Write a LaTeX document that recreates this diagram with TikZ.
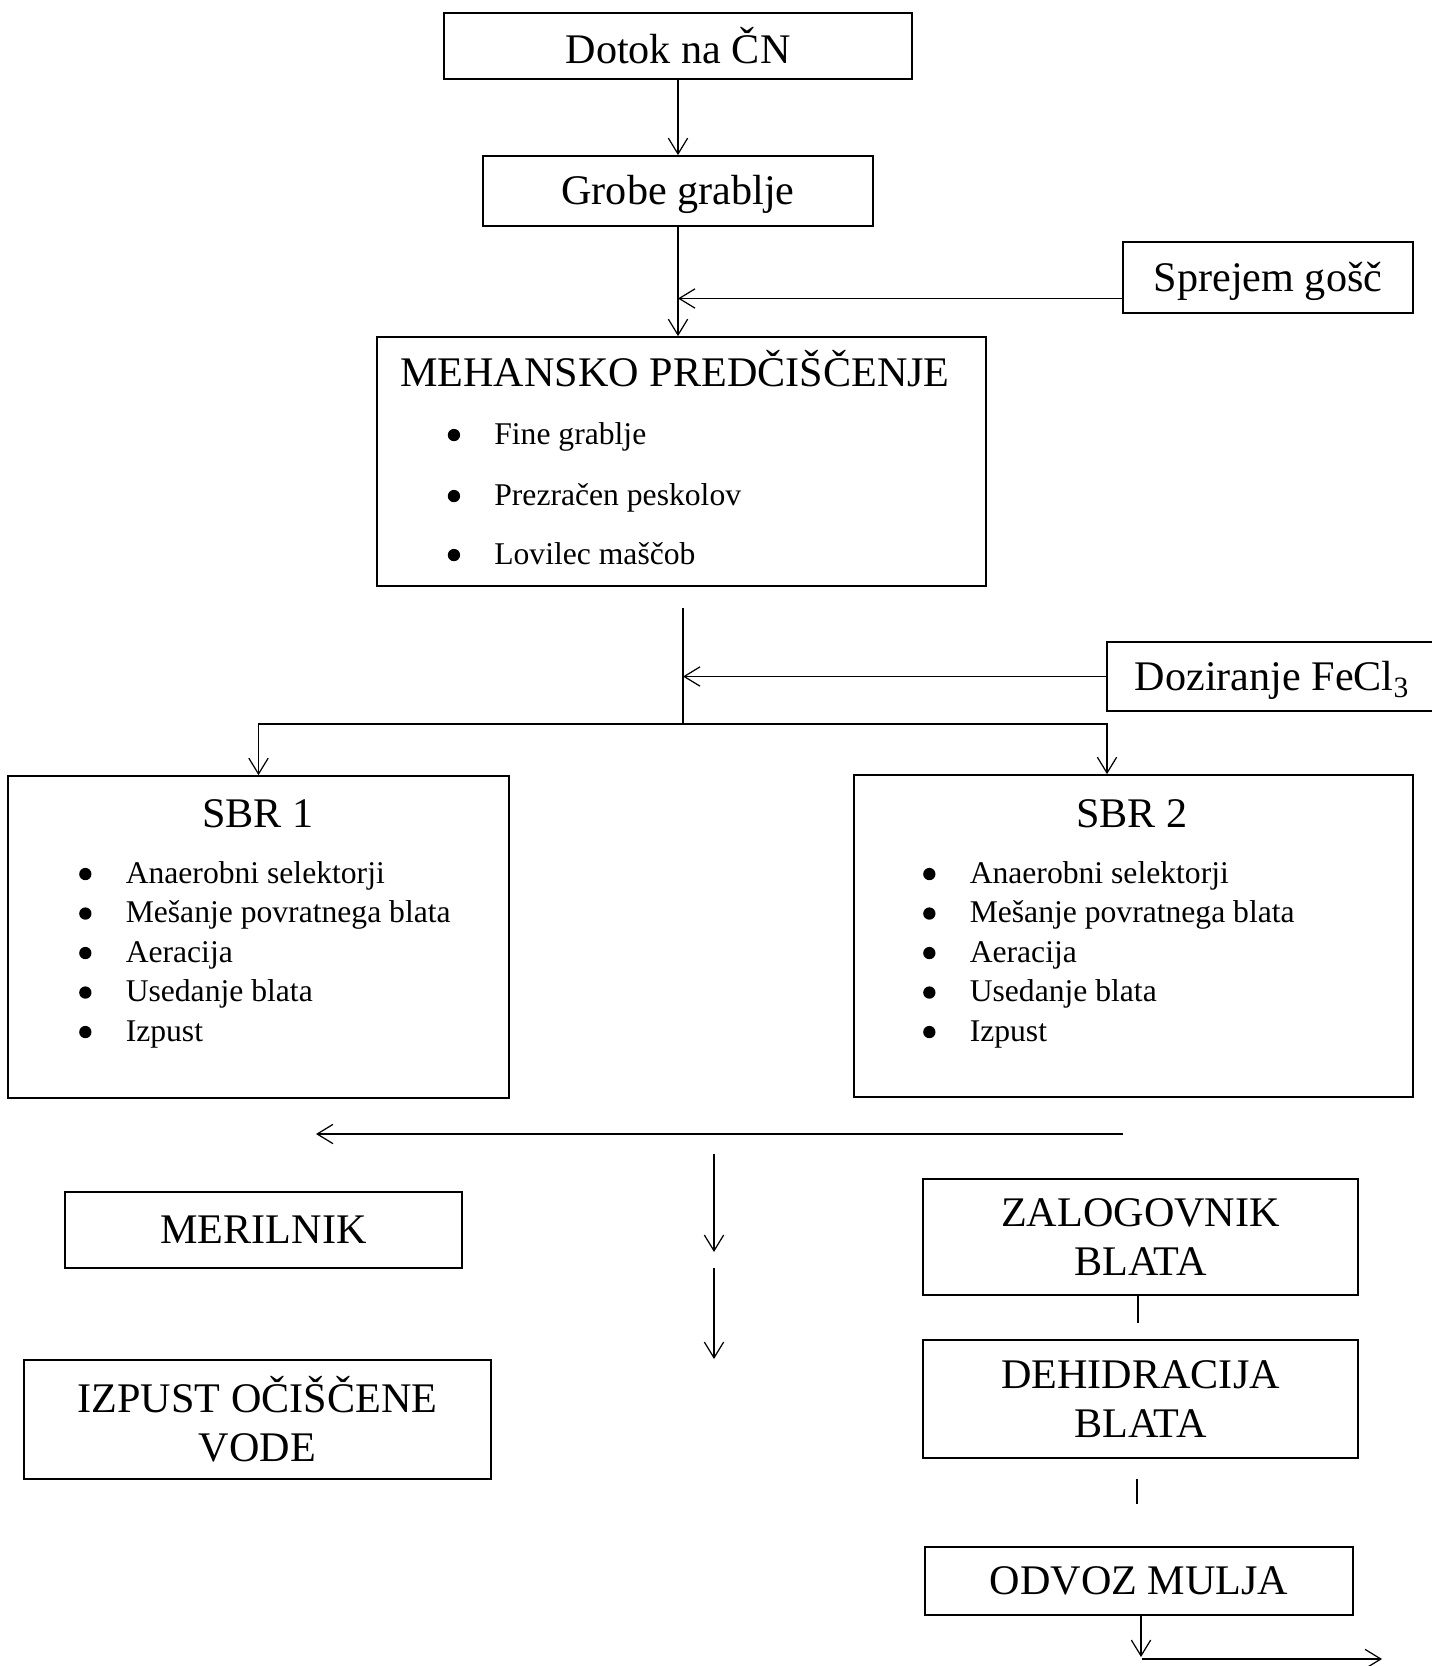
\documentclass[tikz,border=0pt]{standalone}
\usepackage{fontspec}
\setmainfont{Liberation Serif}
\usetikzlibrary{positioning,arrows.meta}
\newcommand{\fbig}{\fontsize{24pt}{28pt}\selectfont}
\newcommand{\fsmall}{\fontsize{18pt}{22pt}\selectfont}

\begin{document}
\begin{tikzpicture}[x=0.02cm, y=-0.02cm, >={Straight Barb[length=9pt,width=11pt]}]
            \tikzstyle{box}=[draw, rectangle, line width=1pt, inner sep=0pt,
            font=\fbig, align=center]
            \tikzstyle{one}=[text height=15.9pt, text depth=0pt]
            \tikzstyle{item}=[anchor=base west, inner sep=0pt, font=\fsmall]
            \tikzstyle{title}=[anchor=base, inner sep=0pt, font=\fbig]
            \tikzstyle{flow}=[line width=0.7pt]
            \useasboundingbox (0,0) rectangle (1432,1666);
            % inflow and mechanical part
            \node[box, minimum width=9.36cm, minimum height=1.32cm] (dotok) at (678,46) {Dotok na ČN};
            \node[box, one, minimum width=7.8cm, minimum height=1.4cm] (grobe) at (678,191) {Grobe grablje};
            \node[box, one, minimum width=5.8cm, minimum height=1.42cm] (sprejem) at (1268,277.5) {Sprejem gošč};
            \node[box, minimum width=12.18cm, minimum height=4.98cm] (meh) at (681.5,461.5) {};
            \node[title] (mehT) at (675,386) {MEHANSKO PREDČIŠČENJE};
            \node[item] (meh1) at (494,444) {Fine grablje};
            \node[item] (meh2) at (494,505) {Prezračen peskolov};
            \node[item] (meh3) at (494,564) {Lovilec maščob};
            \node[box, minimum width=7.2cm, minimum height=1.38cm] (dozir) at (1287,676.5) {};
            \node[font=\fbig, one, inner sep=0pt] (dozirT) at (1272,676.5) {Doziranje FeCl\textsubscript{3}};
            % reactors
            \node[box, minimum width=10.02cm, minimum height=6.44cm] (sbr1) at (258.5,937) {};
            \node[title] (sbr1T) at (258,827) {SBR 1};
            \node[item] (sa1) at (125.4,883) {Anaerobni selektorji};
            \node[item] (sa2) at (125.4,922.5) {Mešanje povratnega blata};
            \node[item] (sa3) at (125.4,962) {Aeracija};
            \node[item] (sa4) at (125.4,1001.5) {Usedanje blata};
            \node[item] (sa5) at (125.4,1041) {Izpust};
            \node[box, minimum width=11.18cm, minimum height=6.44cm] (sbr2) at (1133.5,936) {};
            \node[title] (sbr2T) at (1132,827) {SBR 2};
            \node[item] (sb1) at (969.4,883) {Anaerobni selektorji};
            \node[item] (sb2) at (969.4,922.5) {Mešanje povratnega blata};
            \node[item] (sb3) at (969.4,962) {Aeracija};
            \node[item] (sb4) at (969.4,1001.5) {Usedanje blata};
            \node[item] (sb5) at (969.4,1041) {Izpust};
            % bullets
            \foreach \n in {meh1,meh2,meh3,sa1,sa2,sa3,sa4,sa5,sb1,sb2,sb3,sb4,sb5}
                \fill ([xshift=-22.8pt,yshift=5.1pt]\n.base west) circle (3.5pt);
            % outflow and sludge
            \node[box, one, minimum width=7.94cm, minimum height=1.52cm] (meril) at (263.5,1230) {MERILNIK};
            \node[box, minimum width=9.34cm, minimum height=2.38cm] (izpust) at (257.5,1419.5) {IZPUST OČIŠČENE\\VODE};
            \node[box, minimum width=8.7cm, minimum height=2.32cm] (zalog) at (1140.5,1237) {ZALOGOVNIK\\BLATA};
            \node[box, minimum width=8.7cm, minimum height=2.36cm] (dehid) at (1140.5,1399) {DEHIDRACIJA\\BLATA};
            \node[box, one, minimum width=8.56cm, minimum height=1.36cm] (odvoz) at (1139,1581) {ODVOZ MULJA};
            \coordinate (sp) at ([yshift=-0.42cm]sprejem.west);
            \coordinate (top) at (683,608);
            \coordinate (split) at (683,724);
            \coordinate (rbr) at (1107,724);
            \coordinate (ret) at (1123,1134);
            \coordinate (retend) at (316,1134);
            \coordinate (d1) at (714,1154);
            \coordinate (d1e) at (714,1252);
            \coordinate (d2) at (714,1268);
            \coordinate (d2e) at (714,1359);
            \coordinate (zd) at (1138,1323);
            \coordinate (dd) at (1137,1479);
            \coordinate (dde) at (1137,1504);
            \coordinate (oa) at (1141,1657);
            \coordinate (ob) at (1142,1659);
            \coordinate (obe) at (1382,1659);
            \draw[flow,->] (dotok.south) -- (grobe.north);
            \draw[flow,->] (grobe.south) -- (grobe.south |- meh.north);
            \draw[flow,->] (sp) -- (sp -| grobe.south);
            \draw[flow] (top) -- (split);
            \draw[flow,->] (dozir.west) -- (dozir.west -| top);
            \draw[flow,->] (split) -| (sbr1.north);
            \draw[flow,->] (split) -- (rbr) -- (rbr |- sbr2.north);
            \draw[flow,->] (ret) -- (retend);
            \draw[flow,->] (d1) -- (d1e);
            \draw[flow,->] (d2) -- (d2e);
            \draw[flow] (zalog.south -| zd) -- (zd);
            \draw[flow] (dd) -- (dde);
            \draw[flow,->] (odvoz.south -| oa) -- (oa);
            \draw[flow,->] (ob) -- (obe);
        \end{tikzpicture}
\end{document}
